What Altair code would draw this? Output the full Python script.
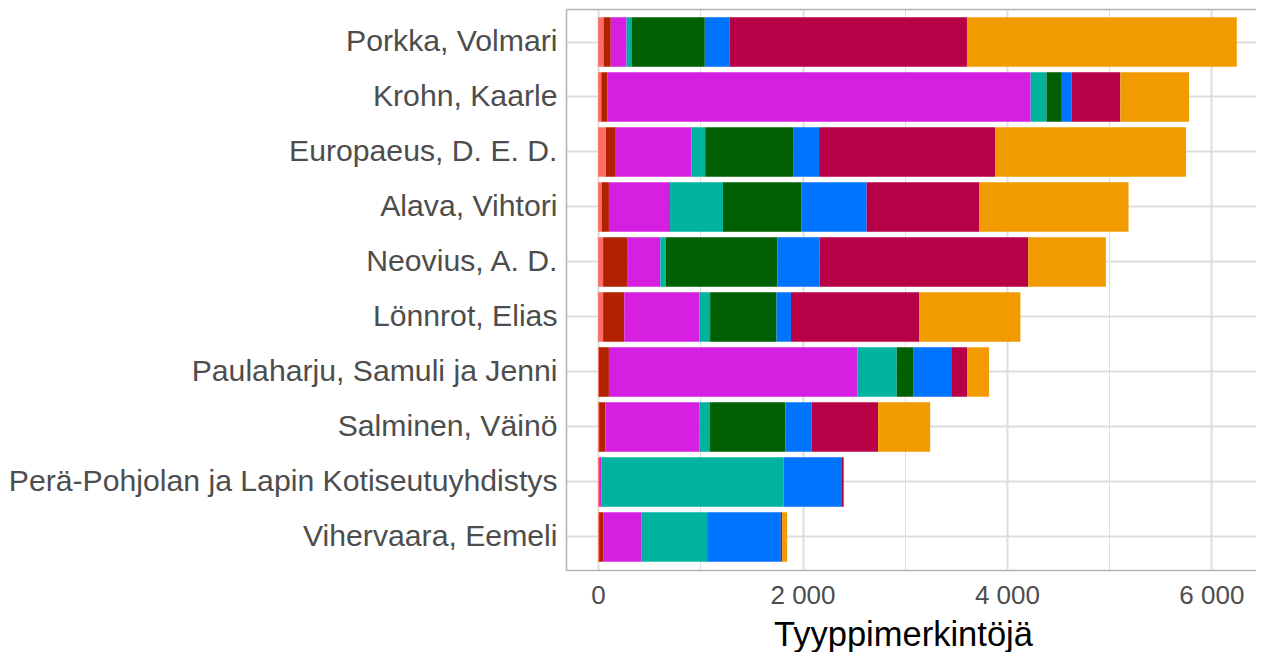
import altair as alt
import pandas as pd

people = [
    "Porkka, Volmari",
    "Krohn, Kaarle",
    "Europaeus, D. E. D.",
    "Alava, Vihtori",
    "Neovius, A. D.",
    "Lönnrot, Elias",
    "Paulaharju, Samuli ja Jenni",
    "Salminen, Väinö",
    "Perä-Pohjolan ja Lapin Kotiseutuyhdistys",
    "Vihervaara, Eemeli",
]

series_names = ["A", "B", "C", "D", "E", "F", "G", "H"]
series_colors = ["#FF6F65", "#B22200", "#D61FE0", "#00B39E",
                 "#005F00", "#0073FF", "#B80047", "#F29B00"]

s_a = [53, 31, 75, 35, 49, 49, 8, 10, 10, 10]
s_b = [71, 62, 98, 71, 241, 207, 98, 61, 0, 39]
s_c = [155, 4139, 742, 598, 319, 734, 2430, 918, 21, 373]
s_d = [48, 155, 133, 518, 53, 106, 386, 106, 1783, 645]
s_e = [717, 150, 866, 765, 1093, 650, 160, 738, 0, 0]
s_f = [245, 98, 248, 641, 413, 141, 373, 257, 572, 721]
s_g = [2320, 475, 1722, 1103, 2040, 1257, 155, 650, 17, 13]
s_h = [2640, 672, 1868, 1459, 760, 988, 215, 509, 0, 49]

series_values = [s_a, s_b, s_c, s_d, s_e, s_f, s_g, s_h]

rows = []
for k, (name, vals) in enumerate(zip(series_names, series_values)):
    for p, v in zip(people, vals):
        rows.append({"henkilo": p, "luokka": name, "ord": k, "n": v})
df = pd.DataFrame(rows)

label_expr = "datum.value % 2000 === 0 ? replace(format(datum.value, ','), ',', ' ') : ''"
border = "#B3B3B3"

x_scale = alt.Scale(domain=[-314, 6437], nice=False, zero=False)
y_scale = alt.Scale(paddingInner=0.1, paddingOuter=0.15)

bars = alt.Chart(df).mark_bar().encode(
    x=alt.X(
        "n:Q",
        stack="zero",
        scale=x_scale,
        axis=alt.Axis(
            title="Tyyppimerkintöjä",
            values=[0, 1000, 2000, 3000, 4000, 5000, 6000],
            labelExpr=label_expr,
            labelFont="Liberation Sans",
            labelFontSize=26,
            labelColor="#4D4D4D",
            labelPadding=12,
            ticks=False,
            domain=True,
            domainColor=border,
            domainWidth=1.5,
            grid=True,
            gridColor="#DEDEDE",
            gridWidth={"condition": {"test": "datum.value % 2000 === 0", "value": 2}, "value": 1},
            titleFont="Liberation Sans",
            titleFontSize=34.5,
            titleFontWeight="normal",
            titleColor="#000000",
            titleX=337,
            titleY=75,
            titleAlign="center",
            titleBaseline="alphabetic",
        ),
    ),
    y=alt.Y(
        "henkilo:N",
        sort=people,
        scale=y_scale,
        axis=alt.Axis(
            title=None,
            labelFont="Liberation Sans",
            labelFontSize=30.2,
            labelColor="#4D4D4D",
            labelPadding=9,
            labelLimit=1000,
            ticks=False,
            domain=True,
            domainColor=border,
            domainWidth=1.5,
            grid=True,
            gridColor="#DEDEDE",
            gridWidth=2,
            bandPosition=0.5,
        ),
    ),
    color=alt.Color(
        "luokka:N",
        scale=alt.Scale(domain=series_names, range=series_colors),
        legend=None,
    ),
    order=alt.Order("ord:Q", sort="ascending"),
)

top_border = alt.Chart(df).mark_bar(opacity=0).encode(
    x=alt.X(
        "n:Q",
        stack="zero",
        scale=x_scale,
        axis=alt.Axis(
            orient="top",
            title=None,
            labels=False,
            ticks=False,
            grid=False,
            domain=True,
            domainColor=border,
            domainWidth=1.5,
        ),
    ),
    y=alt.Y(
        "henkilo:N",
        sort=people,
        scale=y_scale,
        axis=alt.Axis(
            orient="right",
            title=None,
            labels=False,
            ticks=False,
            grid=False,
            domain=False,
        ),
    ),
    order=alt.Order("ord:Q", sort="ascending"),
)

chart = alt.layer(bars, top_border).resolve_axis(
    x="independent", y="independent"
).properties(
    width=690,
    height=561,
    padding={"left": 0, "top": 1, "right": 0, "bottom": 0},
).configure_view(
    stroke=None,
).configure(background="white")

chart.save("out.html", embed_options={"renderer": "svg", "actions": False})
